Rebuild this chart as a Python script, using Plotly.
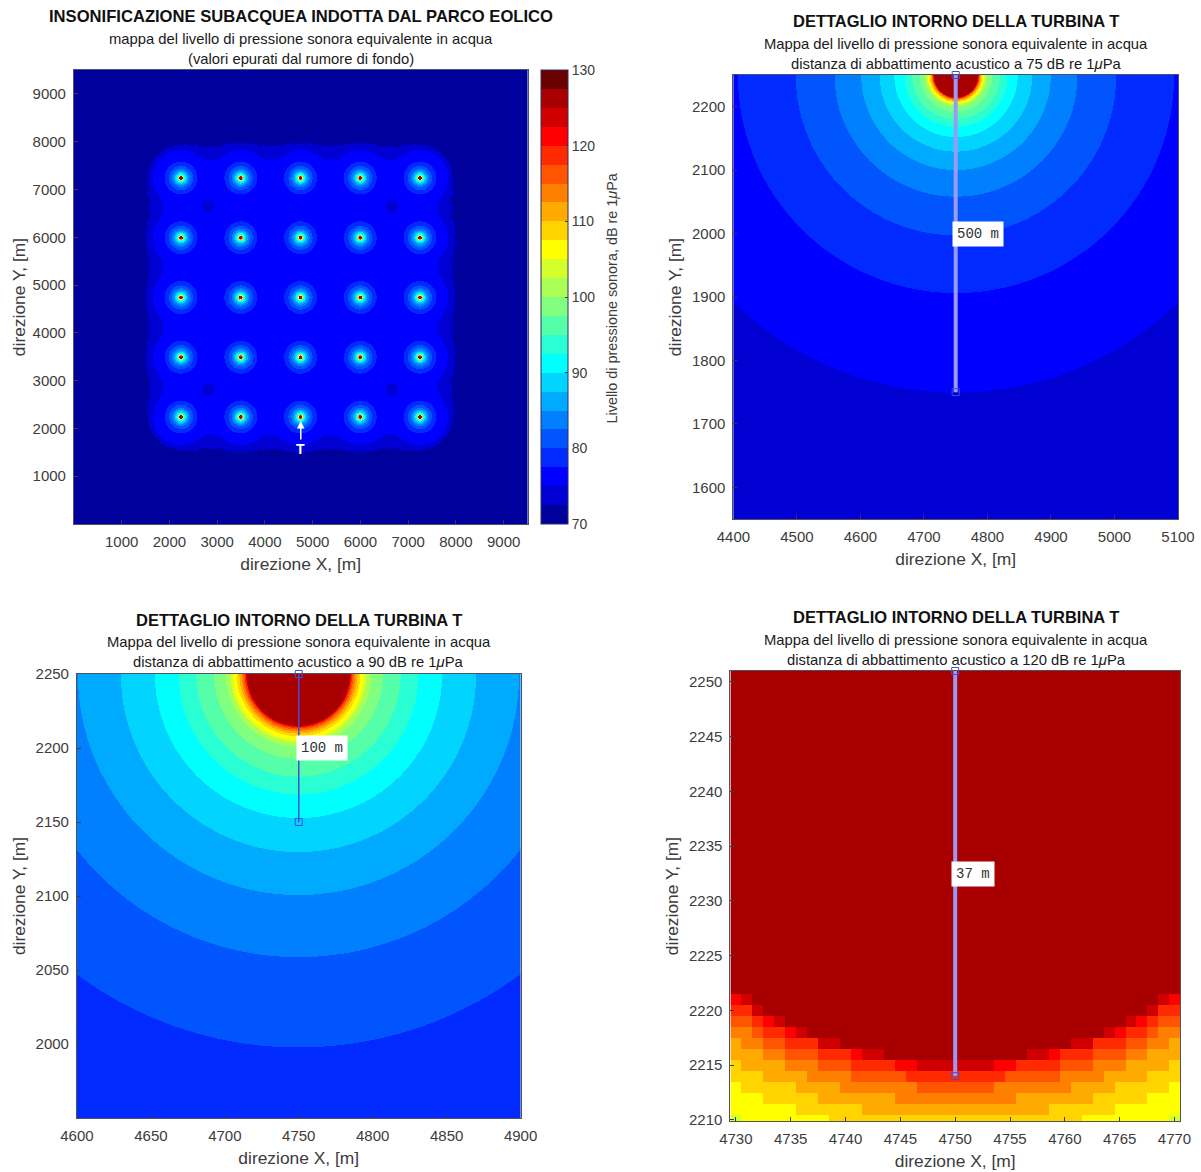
import numpy as np
import plotly.graph_objects as go

W, H = 1201, 1172

# ---- data ----
# jet-like colour bands of the colour bar, bottom (70 dB) to top (130 dB), 2.5 dB each
BAND_COLOURS = ["#00009C", "#0000D2", "#0000FF", "#002AFF", "#0055FF", "#0080FF",
                "#00AAFF", "#00D4FF", "#00FFFF", "#2AFFD4", "#55FFAA", "#80FF80",
                "#AAFF55", "#D4FF2A", "#FFFF00", "#FFD400", "#FFAA00", "#FF8000",
                "#FF5500", "#FF2A00", "#FF0000", "#D00000", "#A80000", "#6A0000"]
CBAR_TICKS = [70, 80, 90, 100, 110, 120, 130]

# turbine layout
TURBINE_X = [2250, 3500, 4750, 6000, 7250]
TURBINE_Y = [2250, 3500, 4750, 6000, 7250]
T_X, T_Y = 4750, 2250

# distance from a turbine (m) out to which each level (dB) is held
RING_RADII = [34.6, 35.17, 35.4, 36.3, 37.2, 38.4, 39.9, 41.7, 44.3, 45.8, 49, 57,
              69, 81, 97, 120, 149, 191, 252, 343, 500]
RING_LEVELS = [126, 123.7, 121, 118.7, 116, 113.7, 111, 108.7, 106, 103.7, 101, 98.7,
               96, 93.7, 91, 88.7, 86, 83.7, 81, 78.4, 75.4]
FAR_LEVEL = 74  # outside the last ring in the detail panels

# spreading beyond 500 m, used only for the whole-park map
SPREAD_RADII = [530, 560, 590, 610, 630, 660, 690, 720, 750, 780, 810, 850, 890, 930, 970,
                1050, 1200, 1400, 1700, 2200, 3000, 20000]
SPREAD_LEVELS = [75.2, 75.1, 74.9, 73.8, 73, 72.6, 72.2, 72, 71.7, 71.4, 71, 70.5, 70, 69.3, 68.6,
                 67, 64.5, 61.5, 59, 55, 50, 40]

# low spots in the park map
SPOT_X = [2825, 6660, 2825, 6660]
SPOT_Y = [6650, 6650, 2830, 2830]
SPOT_RADIUS = 130
SPOT_LEVEL = 74

TITLE_MAIN = "INSONIFICAZIONE SUBACQUEA INDOTTA DAL PARCO EOLICO"
SUB_MAIN = ["mappa del livello di pressione sonora equivalente in acqua",
            "(valori epurati dal rumore di fondo)"]
TITLE_DETAIL = "DETTAGLIO INTORNO DELLA TURBINA T"
SUB_DETAIL = "Mappa del livello di pressione sonora equivalente in acqua"
SUB_DIST = ["distanza di abbattimento acustico a 75 dB re 1<i>μ</i>Pa",
            "distanza di abbattimento acustico a 90 dB re 1<i>μ</i>Pa",
            "distanza di abbattimento acustico a 120 dB re 1<i>μ</i>Pa"]
MEASURE_ENDS = [1750, 2150, 2214]
MEASURE_LABELS = ["500 m", "100 m", "37 m"]
AX_X = "direzione X, [m]"
AX_Y = "direzione Y, [m]"
CB_TITLE = "Livello di pressione sonora, dB re 1<i>μ</i>Pa"

# ---- field ----
def ring_level(r):
    radii = np.array(RING_RADII)
    levels = np.array(RING_LEVELS + [FAR_LEVEL])
    return levels[np.searchsorted(radii, r, side="left")]

def park_level(r):
    out = ring_level(r)
    idx = np.searchsorted(np.array(SPREAD_RADII), r, side="left")
    idx = np.clip(idx, 0, len(SPREAD_LEVELS) - 1)
    return np.where(r <= RING_RADII[-1], out, np.array(SPREAD_LEVELS)[idx])

def detail_field(xs, ys):
    X, Y = np.meshgrid(xs, ys)
    return np.round(ring_level(np.hypot(X - T_X, Y - T_Y)), 1)

xa = np.linspace(0, 9500, 455)
ya = np.linspace(0, 9500, 455)
XA, YA = np.meshgrid(xa, ya)
energy = np.zeros_like(XA)
for tx in TURBINE_X:
    for ty in TURBINE_Y:
        energy += 10 ** (park_level(np.hypot(XA - tx, YA - ty)) / 10)
ZA = 10 * np.log10(energy)
for sx, sy in zip(SPOT_X, SPOT_Y):
    ZA[np.hypot(XA - sx, YA - sy) < SPOT_RADIUS] = SPOT_LEVEL
ZA = np.round(ZA, 1)

xb, yb = np.linspace(4400, 5100, 446), np.linspace(1550, 2250, 445)
xc, yc = np.linspace(4600, 4900, 445), np.linspace(1950, 2250, 445)
xd, yd = np.arange(4730, 4771, 1.0), np.arange(2210, 2252, 1.0)

n = len(BAND_COLOURS)
scale = []
for i, c in enumerate(BAND_COLOURS):
    scale += [[i / n, c], [(i + 1) / n, c]]

# ---- layout geometry (pixels) ----
PANELS = {"A": (73, 527, 70, 524), "B": (733, 1178, 75, 519),
          "C": (76, 520, 674, 1118), "D": (730, 1180, 671, 1121)}
# plotly reserves a small pushed margin; map page pixels into the plot area it leaves
PL, PW, PT, PH = 16, 1168, 9, 1156
def fx(p): return (p - PL) / PW
def fy(p): return 1 - (p - PT) / PH

fig = go.Figure()
TXT = "#3c3c3c"
FONT = "Liberation Sans"

def add_panel(name, xs, ys, z, xr, yr, xt, yt, idx, xstand, ystand, showscale=False):
    l, r, t, b = PANELS[name]
    xn, yn = f"x{idx}" if idx > 1 else "x", f"y{idx}" if idx > 1 else "y"
    hm = dict(x=xs, y=ys, z=z, colorscale=scale, zmin=70, zmax=130, xaxis=xn, yaxis=yn,
              showscale=showscale, hoverinfo="skip")
    if showscale:
        hm["colorbar"] = dict(
            x=fx(540), xanchor="left", xpad=0, ypad=0, y=fy(524), yanchor="bottom",
            lenmode="pixels", len=454, thicknessmode="pixels", thickness=27,
            tickvals=CBAR_TICKS, ticks="inside", ticklen=3, tickcolor=TXT,
            tickfont=dict(size=14, color=TXT, family=FONT), outlinecolor="#303060", outlinewidth=1)
    fig.add_trace(go.Heatmap(**hm))
    common = dict(ticks="inside", ticklen=4, tickcolor=TXT, showline=True, linecolor="#505060",
                  linewidth=1, mirror=True, showgrid=False, zeroline=False,
                  tickfont=dict(size=15, color=TXT, family=FONT), ticklabelstandoff=4)
    fig.layout[f"xaxis{idx if idx > 1 else ''}"] = dict(
        domain=[fx(l), fx(r)], range=xr, tickvals=xt, anchor=yn, constrain="domain",
        title=dict(text=AX_X, standoff=xstand, font=dict(size=17.4, color=TXT, family=FONT)), **common)
    fig.layout[f"yaxis{idx if idx > 1 else ''}"] = dict(
        domain=[fy(b), fy(t)], range=yr, tickvals=yt, anchor=xn,
        title=dict(text=AX_Y, standoff=ystand, font=dict(size=17.4, color=TXT, family=FONT)), **common)

def add_measure(idx, end, label, label_x, label_y, lw, col):
    xn, yn = f"x{idx}", f"y{idx}"
    fig.add_trace(go.Scatter(x=[T_X, T_X], y=[T_Y if idx != 4 else 2251, end], mode="lines+markers",
                             xaxis=xn, yaxis=yn, cliponaxis=False, hoverinfo="skip", showlegend=False,
                             line=dict(color=col, width=lw),
                             marker=dict(symbol="square-open", size=7, color="#3a50e0", line=dict(width=1))))
    fig.add_annotation(x=label_x, y=label_y, xref=xn, yref=yn, text=label, showarrow=False,
                       bgcolor="white", font=dict(family="Liberation Mono", size=14, color="#303030"),
                       borderpad=4)

add_panel("A", xa, ya, ZA, [0, 9500], [0, 9500], list(range(1000, 9001, 1000)),
          list(range(1000, 9001, 1000)), 1, 8, 2, showscale=True)
add_panel("B", xb, yb, detail_field(xb, yb), [4400, 5100], [1550, 2250], list(range(4400, 5101, 100)),
          list(range(1600, 2201, 100)), 2, 8, 5)
add_panel("C", xc, yc, detail_field(xc, yc), [4600, 4900], [1950, 2250], list(range(4600, 4901, 50)),
          list(range(2000, 2251, 50)), 3, 8, 5)
add_panel("D", xd, yd, detail_field(xd, yd), [4729.5, 4770.5], [2209.9, 2251], list(range(4730, 4771, 5)),
          list(range(2210, 2251, 5)), 4, 8, 5)

add_measure(2, MEASURE_ENDS[0], MEASURE_LABELS[0], 4785, 2000, 4, "#9a9af5")
add_measure(3, MEASURE_ENDS[1], MEASURE_LABELS[1], 4765.5, 2200, 1.5, "#3a50e0")
add_measure(4, MEASURE_ENDS[2], MEASURE_LABELS[2], 4751.6, 2232.5, 4, "#9a9af5")

# T marker on the park map
fig.add_annotation(x=T_X, y=2157, xref="x", yref="y", text="<b>T</b>", showarrow=True, arrowhead=2,
                   arrowsize=1, arrowwidth=1.5, arrowcolor="white", ax=0, ay=28,
                   font=dict(size=14, color="white", family=FONT))

def text_at(cx, cy, txt, size, bold=False, col="#1a1a1a", angle=0):
    fig.add_annotation(x=fx(cx), y=fy(cy), xref="paper", yref="paper", showarrow=False,
                       text=f"<b>{txt}</b>" if bold else txt, xanchor="center", yanchor="middle",
                       textangle=angle, font=dict(size=size, color=col, family=FONT))

text_at(300, 17, TITLE_MAIN, 16.6, True, "#111111")
text_at(300, 39, SUB_MAIN[0], 14.8)
text_at(300, 59, SUB_MAIN[1], 14.8)
text_at(956, 21, TITLE_DETAIL, 16.5, True, "#111111")
text_at(956, 44, SUB_DETAIL, 14.8)
text_at(956, 64, SUB_DIST[0], 14.8)
text_at(298, 620, TITLE_DETAIL, 16.5, True, "#111111")
text_at(298, 642, SUB_DETAIL, 14.8)
text_at(298, 662, SUB_DIST[1], 14.8)
text_at(956, 617, TITLE_DETAIL, 16.5, True, "#111111")
text_at(956, 640, SUB_DETAIL, 14.8)
text_at(956, 660, SUB_DIST[2], 14.8)
text_at(612, 298, CB_TITLE, 14.4, False, TXT, -90)

fig.update_layout(width=W, height=H, autosize=False, margin=dict(l=0, r=0, t=0, b=0),
                  paper_bgcolor="white", plot_bgcolor="white", showlegend=False,
                  font=dict(family=FONT))

fig.write_html("out.html", config={"displayModeBar": False},
               post_script="document.body.style.margin='0';document.body.style.overflow='hidden';")
